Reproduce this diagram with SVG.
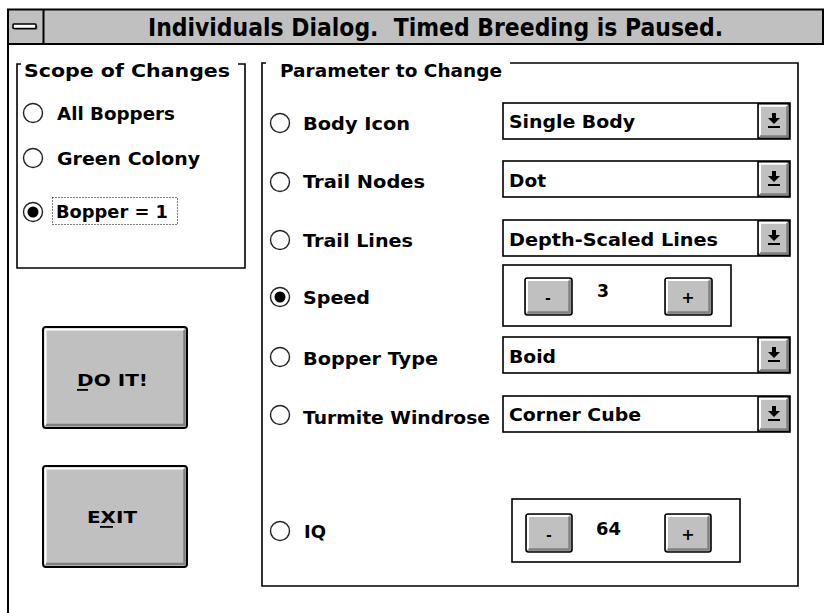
<svg xmlns="http://www.w3.org/2000/svg" width="824" height="613" viewBox="0 0 824 613">
  <style>
    .bg { fill: #ffffff; }
    .frame { fill: none; stroke: #000; stroke-width: 2; }
    .line { fill: none; stroke: #000; stroke-width: 1.6; }
    .t { font-family: "DejaVu Sans", "Liberation Sans", sans-serif; font-weight: bold; fill: #000; }
    .lbl { font-size: 18px; }
    .grp { font-size: 18px; }
    .title { font-size: 24px; }
    .btnTxt { font-size: 16px; }
    .face { fill: #c0c0c0; }
    .hi { fill: none; stroke: #ffffff; stroke-width: 2; }
    .sh { fill: none; stroke: #808080; stroke-width: 2.5; }
    .radio { fill: #fff; stroke: #222; stroke-width: 1.4; }
    .dot { fill: #000; }
    .box { fill: #fff; stroke: #000; stroke-width: 1.6; }
  </style>
  <defs>
    <!-- down arrow with underscore, used on each combo box button -->
    <g id="dropArrow">
      <rect x="-2" y="-8" width="4" height="5.5" fill="#000"/>
      <polygon points="-6,-3 6,-3 0,3" fill="#000"/>
      <rect x="-6" y="5" width="12" height="2" fill="#000"/>
    </g>
  </defs>

  <rect class="bg" x="0" y="0" width="824" height="613"/>

  <!-- window frame and caption -->
  <g id="window">
    <line class="frame" x1="8" y1="9" x2="8" y2="613"/>
    <rect x="8" y="9.5" width="815" height="34.5" fill="#c0c0c0" stroke="#000" stroke-width="2"/>
    <line x1="43.5" y1="10" x2="43.5" y2="44" stroke="#000" stroke-width="2"/>
    <rect x="14.5" y="25.5" width="23" height="4.5" rx="1" fill="#808080"/>
    <rect x="13" y="24" width="23" height="4.5" rx="1" fill="#fff" stroke="#000" stroke-width="1.6"/>
    <text class="t title" x="148" y="36" textLength="575" lengthAdjust="spacingAndGlyphs">Individuals Dialog.&#160; Timed Breeding is Paused.</text>
  </g>

  <!-- scope group -->
  <g id="scope">
    <path class="line" d="M 21 64 H 17 V 268 H 245 V 64 H 238"/>
    <text class="t grp" x="24" y="77" textLength="206" lengthAdjust="spacingAndGlyphs">Scope of Changes</text>
    <circle class="radio" cx="33" cy="113" r="9.5"/>
    <text class="t lbl" x="57" y="120" textLength="118" lengthAdjust="spacingAndGlyphs">All Boppers</text>
    <circle class="radio" cx="33" cy="158" r="9.5"/>
    <text class="t lbl" x="57" y="165" textLength="143" lengthAdjust="spacingAndGlyphs">Green Colony</text>
    <circle class="radio" cx="33" cy="212" r="9.5"/>
    <circle class="dot" cx="33" cy="212" r="5.5"/>
    <rect x="52.5" y="197.5" width="125" height="27" fill="none" stroke="#000" stroke-width="1" stroke-dasharray="1 2"/>
    <text class="t lbl" x="56" y="218" textLength="112" lengthAdjust="spacingAndGlyphs">Bopper = 1</text>
  </g>

  <!-- action buttons -->
  <g id="btnDoIt">
    <rect class="face" x="43" y="327" width="144" height="101" rx="3" stroke="#000" stroke-width="2"/>
    <path class="hi" d="M 45.5 425 V 329.5 H 184"/>
    <path class="sh" d="M 46 425 H 184.5 V 330"/>
    <text class="t btnTxt" x="77" y="386" textLength="71" lengthAdjust="spacingAndGlyphs">DO IT!</text>
    <rect x="77" y="389" width="11" height="1.8" fill="#000"/>
  </g>
  <g id="btnExit">
    <rect class="face" x="43" y="466" width="144" height="101" rx="3" stroke="#000" stroke-width="2"/>
    <path class="hi" d="M 45.5 564 V 468.5 H 184"/>
    <path class="sh" d="M 46 564 H 184.5 V 469"/>
    <text class="t btnTxt" x="87" y="523" textLength="50" lengthAdjust="spacingAndGlyphs">EXIT</text>
    <rect x="100" y="526" width="13" height="1.8" fill="#000"/>
  </g>

  <!-- parameter group -->
  <g id="params">
    <path class="line" d="M 266 63 H 262 V 586 H 798 V 63 H 510"/>
    <text class="t grp" x="280" y="77" textLength="222" lengthAdjust="spacingAndGlyphs">Parameter to Change</text>
  </g>

  <g id="rowBodyIcon">
    <circle class="radio" cx="280" cy="123" r="9.5"/>
    <text class="t lbl" x="303" y="130" textLength="107" lengthAdjust="spacingAndGlyphs">Body Icon</text>
    <rect class="box" x="503" y="103" width="287" height="36"/>
    <text class="t lbl" x="509" y="128" textLength="126" lengthAdjust="spacingAndGlyphs">Single Body</text>
    <rect class="face" x="758" y="103.8" width="31.2" height="34.4" stroke="#000" stroke-width="1.6"/>
    <path class="hi" d="M 760 136 V 105.8 H 787"/>
    <path class="sh" d="M 760 136.5 H 787.5 V 106"/>
    <use href="#dropArrow" x="774" y="121"/>
  </g>

  <g id="rowTrailNodes">
    <circle class="radio" cx="280" cy="182" r="9.5"/>
    <text class="t lbl" x="303" y="188" textLength="122" lengthAdjust="spacingAndGlyphs">Trail Nodes</text>
    <rect class="box" x="503" y="161" width="287" height="36"/>
    <text class="t lbl" x="509" y="187" textLength="37" lengthAdjust="spacingAndGlyphs">Dot</text>
    <rect class="face" x="758" y="161.8" width="31.2" height="34.4" stroke="#000" stroke-width="1.6"/>
    <path class="hi" d="M 760 194 V 163.8 H 787"/>
    <path class="sh" d="M 760 194.5 H 787.5 V 164"/>
    <use href="#dropArrow" x="774" y="179"/>
  </g>

  <g id="rowTrailLines">
    <circle class="radio" cx="280" cy="240" r="9.5"/>
    <text class="t lbl" x="303" y="247" textLength="110" lengthAdjust="spacingAndGlyphs">Trail Lines</text>
    <rect class="box" x="503" y="220" width="287" height="36"/>
    <text class="t lbl" x="509" y="246" textLength="209" lengthAdjust="spacingAndGlyphs">Depth-Scaled Lines</text>
    <rect class="face" x="758" y="220.8" width="31.2" height="34.4" stroke="#000" stroke-width="1.6"/>
    <path class="hi" d="M 760 253 V 222.8 H 787"/>
    <path class="sh" d="M 760 253.5 H 787.5 V 223"/>
    <use href="#dropArrow" x="774" y="238"/>
  </g>

  <g id="rowSpeed">
    <circle class="radio" cx="280" cy="297" r="9.5"/>
    <circle class="dot" cx="280" cy="297" r="5.5"/>
    <text class="t lbl" x="303" y="304" textLength="67" lengthAdjust="spacingAndGlyphs">Speed</text>
    <rect class="box" x="503" y="265" width="228" height="61"/>
    <rect class="face" x="525" y="278" width="47" height="37" rx="2.5" stroke="#000" stroke-width="1.6"/>
    <path class="hi" d="M 527 312.5 V 280 H 569"/>
    <path class="sh" d="M 527.5 312.5 H 569.5 V 280.5"/>
    <text class="t" x="548" y="303" font-size="14" text-anchor="middle">-</text>
    <text class="t" x="597" y="297" font-size="18" textLength="12" lengthAdjust="spacingAndGlyphs">3</text>
    <rect class="face" x="665" y="278" width="47" height="37" rx="2.5" stroke="#000" stroke-width="1.6"/>
    <path class="hi" d="M 667 312.5 V 280 H 709"/>
    <path class="sh" d="M 667.5 312.5 H 709.5 V 280.5"/>
    <text class="t" x="688" y="303" font-size="16" text-anchor="middle">+</text>
  </g>

  <g id="rowBopperType">
    <circle class="radio" cx="280" cy="357" r="9.5"/>
    <text class="t lbl" x="303" y="365" textLength="135" lengthAdjust="spacingAndGlyphs">Bopper Type</text>
    <rect class="box" x="503" y="337" width="287" height="36"/>
    <text class="t lbl" x="509" y="363" textLength="47" lengthAdjust="spacingAndGlyphs">Boid</text>
    <rect class="face" x="758" y="337.8" width="31.2" height="34.4" stroke="#000" stroke-width="1.6"/>
    <path class="hi" d="M 760 370 V 339.8 H 787"/>
    <path class="sh" d="M 760 370.5 H 787.5 V 340"/>
    <use href="#dropArrow" x="774" y="355"/>
  </g>

  <g id="rowWindrose">
    <circle class="radio" cx="280" cy="415" r="9.5"/>
    <text class="t lbl" x="303" y="424" textLength="187" lengthAdjust="spacingAndGlyphs">Turmite Windrose</text>
    <rect class="box" x="503" y="396" width="287" height="36"/>
    <text class="t lbl" x="509" y="421" textLength="132" lengthAdjust="spacingAndGlyphs">Corner Cube</text>
    <rect class="face" x="758" y="396.8" width="31.2" height="34.4" stroke="#000" stroke-width="1.6"/>
    <path class="hi" d="M 760 429 V 398.8 H 787"/>
    <path class="sh" d="M 760 429.5 H 787.5 V 399"/>
    <use href="#dropArrow" x="774" y="414"/>
  </g>

  <g id="rowIQ">
    <circle class="radio" cx="280" cy="531" r="9.5"/>
    <text class="t lbl" x="304" y="538" textLength="22" lengthAdjust="spacingAndGlyphs">IQ</text>
    <rect class="box" x="512" y="499" width="228" height="63"/>
    <rect class="face" x="526" y="514" width="46" height="38" rx="2.5" stroke="#000" stroke-width="1.6"/>
    <path class="hi" d="M 528 549.5 V 516 H 569"/>
    <path class="sh" d="M 528.5 549.5 H 569.5 V 516.5"/>
    <text class="t" x="549" y="540" font-size="14" text-anchor="middle">-</text>
    <text class="t" x="596" y="535" font-size="18" textLength="25" lengthAdjust="spacingAndGlyphs">64</text>
    <rect class="face" x="665" y="514" width="46" height="38" rx="2.5" stroke="#000" stroke-width="1.6"/>
    <path class="hi" d="M 667 549.5 V 516 H 708"/>
    <path class="sh" d="M 667.5 549.5 H 708.5 V 516.5"/>
    <text class="t" x="688" y="540" font-size="16" text-anchor="middle">+</text>
  </g>
</svg>
